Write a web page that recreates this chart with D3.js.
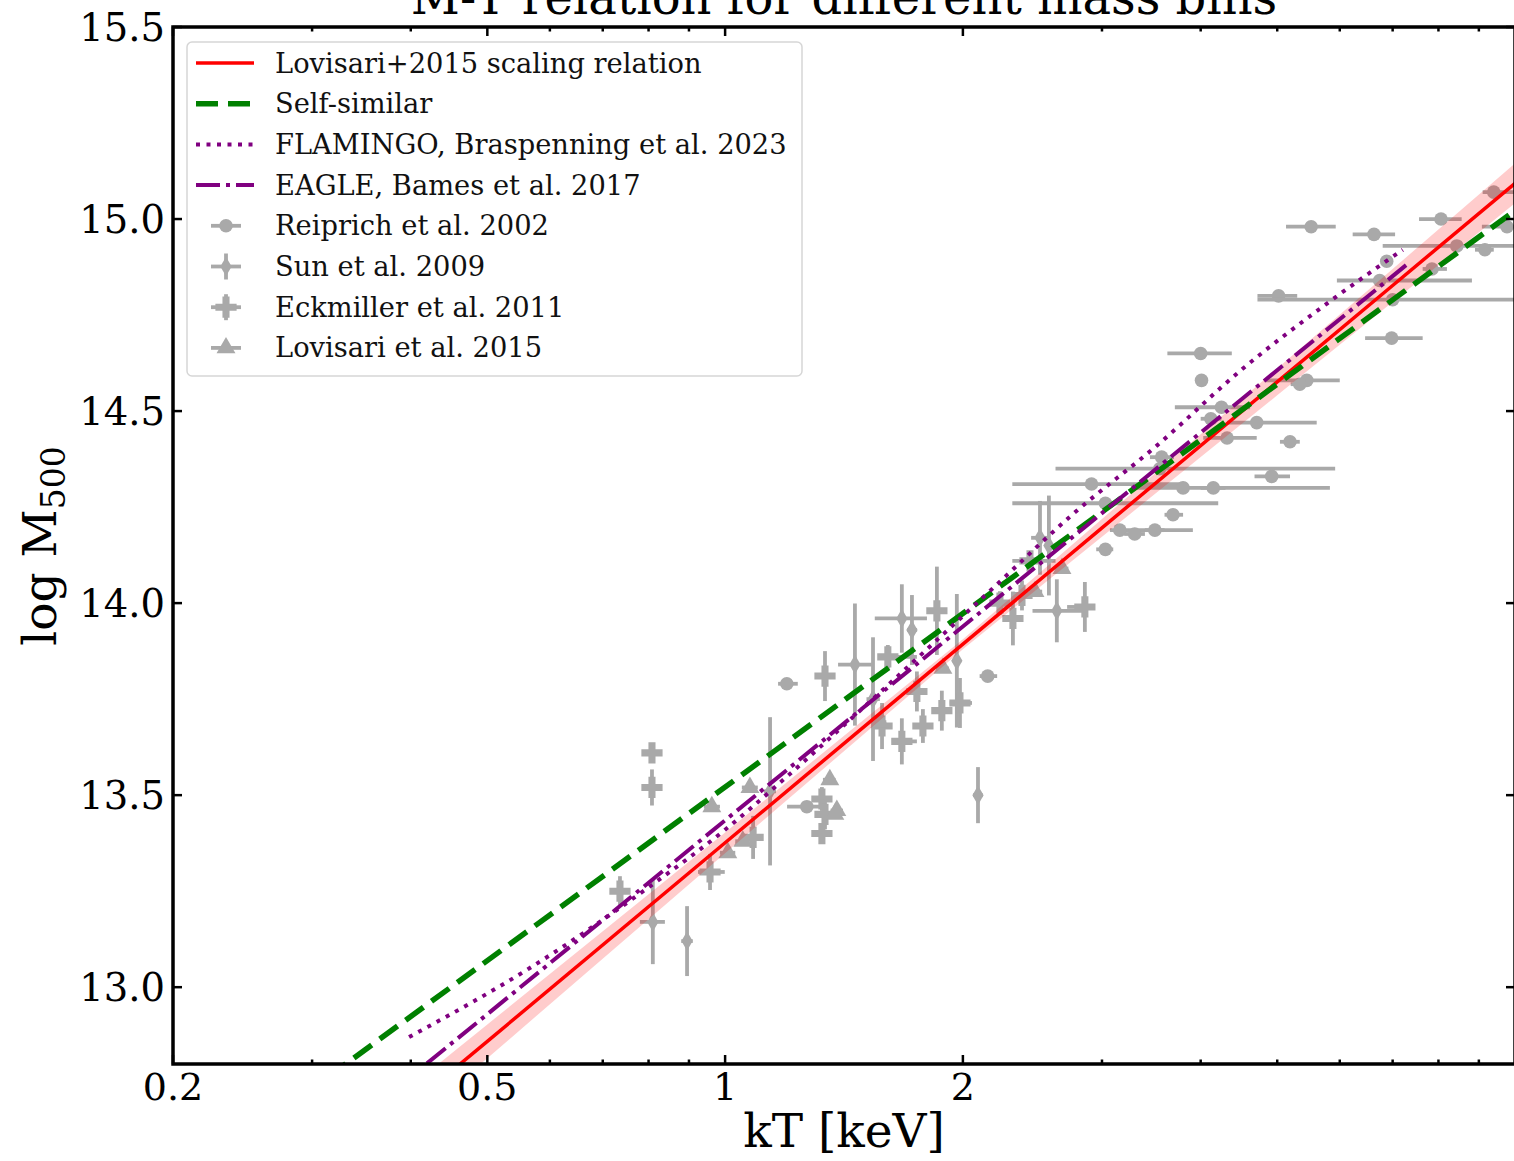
<!DOCTYPE html>
<html>
<head>
<meta charset="utf-8">
<script src="https://cdn.jsdelivr.net/npm/d3@7"></script>
<style>
  body { margin: 0; background: #fff; }
  svg { display: block; font-family: "DejaVu Serif", serif; }
</style>
</head>
<body>
<div id="chart"></div>
<script>
// scaling relations (kT in keV, log M500)
const relKT = [0.4, 0.5, 1, 2, 3, 5, 7, 10];
const lovisariFit = [12.693, 12.859, 13.376, 13.893, 14.196, 14.576, 14.827, 15.093];
const lovisariLo = [12.644, 12.815, 13.349, 13.880, 14.173, 14.541, 14.784, 15.041];
const lovisariHi = [12.742, 12.903, 13.403, 13.906, 14.219, 14.611, 14.870, 15.145];

const selfSimKT = [0.2, 10];
const selfSimLogM = [12.472, 15.022];

const flamingoKT = [0.398, 0.566, 0.80, 1.0, 1.2, 1.5, 2.16, 2.75, 3.52, 4.52, 5.78, 7.21];
const flamingoLogM = [12.87, 13.05, 13.26, 13.41, 13.55, 13.73, 14.03, 14.23, 14.41, 14.61, 14.78, 14.92];

const eagleKT = [0.35, 7.28];
const eagleLogM = [12.67, 14.88];

// observed samples: [kT, logM, kT_lo, kT_hi, dlogM]
const reiprich = [
  [5.52, 14.98, 5.13, 5.93], [6.63, 14.96, 6.23, 7.05], [8.06, 15.00, 7.56, 8.56],
  [9.77, 14.98, 9.08, 10.2], [8.44, 14.93, 6.80, 10.2], [9.16, 14.92, 8.9, 9.4],
  [9.4, 15.07, 9.1, 10.2], [6.88, 14.89, 6.8, 6.95], [7.85, 14.87, 7.64, 8.20],
  [6.74, 14.84, 5.95, 8.82], [5.02, 14.80, 4.72, 5.30], [7.00, 14.79, 4.72, 10.5],
  [6.98, 14.69, 6.46, 7.64], [4.00, 14.65, 3.63, 4.38], [4.01, 14.58, 3.95, 4.08],
  [5.45, 14.58, 4.82, 6.00], [5.34, 14.57, 5.2, 5.5], [4.12, 14.48, 4.0, 4.25],
  [4.25, 14.51, 3.71, 4.62], [4.71, 14.47, 4.32, 5.61], [4.32, 14.43, 4.03, 4.71],
  [5.19, 14.42, 5.04, 5.34], [3.57, 14.38, 3.45, 3.7], [3.55, 14.35, 2.62, 5.92],
  [4.92, 14.33, 4.68, 5.19], [2.91, 14.31, 2.31, 3.84], [3.80, 14.30, 3.28, 5.83],
  [4.15, 14.30, 4.0, 4.3], [3.03, 14.26, 2.31, 4.21], [3.69, 14.23, 3.6, 3.8],
  [3.16, 14.19, 3.07, 3.91], [3.30, 14.18, 3.2, 3.4], [3.50, 14.19, 3.4, 3.6],
  [3.03, 14.14, 2.95, 3.1], [1.197, 13.79, 1.167, 1.236], [2.15, 13.81, 2.10, 2.21],
  [1.269, 13.47, 1.198, 1.346]
];

const sun = [
  [1.14, 13.51, 1.12, 1.16, 0.193], [1.46, 13.84, 1.39, 1.534, 0.159],
  [1.539, 13.75, 1.51, 1.57, 0.161], [1.674, 13.96, 1.547, 1.801, 0.089],
  [1.724, 13.93, 1.70, 1.75, 0.091], [1.965, 13.85, 1.94, 1.99, 0.174],
  [2.09, 13.50, 2.06, 2.12, 0.073], [2.504, 14.17, 2.44, 2.57, 0.096],
  [2.57, 14.15, 2.54, 2.60, 0.13], [2.63, 13.98, 2.45, 2.84, 0.082],
  [0.81, 13.17, 0.78, 0.839, 0.11], [0.895, 13.12, 0.88, 0.91, 0.091]
];

const eckmiller = [
  [0.808, 13.61, 0.792, 0.827, 0.026], [0.808, 13.52, 0.792, 0.827, 0.047],
  [1.338, 13.81, 1.31, 1.37, 0.065], [1.854, 13.98, 1.82, 1.89, 0.115],
  [1.607, 13.86, 1.57, 1.749, 0.031], [1.749, 13.77, 1.72, 1.78, 0.052],
  [1.58, 13.68, 1.55, 1.61, 0.06], [1.674, 13.64, 1.626, 1.749, 0.06],
  [1.78, 13.68, 1.75, 1.81, 0.044], [1.881, 13.72, 1.85, 1.91, 0.052],
  [1.983, 13.74, 1.925, 2.054, 0.065], [2.314, 13.96, 2.28, 2.35, 0.07],
  [2.432, 14.11, 2.31, 2.62, 0.026], [2.854, 13.99, 2.71, 2.913, 0.065],
  [2.376, 14.02, 2.34, 2.41, 0.039], [2.228, 14.0, 2.20, 2.26, 0.031],
  [1.326, 13.49, 1.30, 1.35, 0.031], [1.338, 13.45, 1.31, 1.37, 0.039],
  [1.326, 13.40, 1.30, 1.35, 0.026], [0.957, 13.30, 0.924, 0.999, 0.047],
  [1.085, 13.39, 1.06, 1.11, 0.056], [0.736, 13.25, 0.72, 0.75, 0.039]
];

const lovisariPts = [
  [0.962, 13.47, 0.94, 0.985], [1.075, 13.52, 1.05, 1.10], [1.008, 13.35, 0.985, 1.03],
  [1.053, 13.38, 1.03, 1.075], [1.377, 13.45, 1.35, 1.40], [1.357, 13.54, 1.33, 1.38],
  [1.57, 13.69, 1.54, 1.60], [1.887, 13.83, 1.85, 1.92], [2.67, 14.09, 2.62, 2.72],
  [2.468, 14.03, 2.42, 2.52], [1.385, 13.46, 1.36, 1.41]
];

const xMajor = [0.2, 0.5, 1, 2];
const xMinor = [0.3, 0.4, 0.6, 0.7, 0.8, 0.9, 3, 4, 5, 6, 7, 8, 9];
const yMajor = [13.0, 13.5, 14.0, 14.5, 15.0, 15.5];

const legendLabels = [
  "Lovisari+2015 scaling relation", "Self-similar", "FLAMINGO, Braspenning et al. 2023",
  "EAGLE, Bames et al. 2017", "Reiprich et al. 2002", "Sun et al. 2009",
  "Eckmiller et al. 2011", "Lovisari et al. 2015"
];

const W = 1514, H = 1161;
const gray = "#a9a9a9";

const x = d3.scaleLog().domain([0.2, 10]).range([173, 1515]);
const y = d3.scaleLinear().domain([12.8, 15.5]).range([1064, 27]);

const svg = d3.select("#chart").append("svg")
  .attr("width", W).attr("height", H);

svg.append("defs").append("clipPath").attr("id", "plotclip")
  .append("rect").attr("x", 173).attr("y", 27).attr("width", 1515 - 173).attr("height", 1064 - 27);

const plot = svg.append("g").attr("clip-path", "url(#plotclip)");

// error bars + markers
function drawSample(data, symbol, hasYerr) {
  const g = plot.append("g");
  data.forEach(d => {
    g.append("line")
      .attr("x1", x(d[2])).attr("x2", x(d[3]))
      .attr("y1", y(d[1])).attr("y2", y(d[1]))
      .attr("stroke", gray).attr("stroke-width", 3.8);
    if (hasYerr) {
      g.append("line")
        .attr("x1", x(d[0])).attr("x2", x(d[0]))
        .attr("y1", y(d[1] - d[4])).attr("y2", y(d[1] + d[4]))
        .attr("stroke", gray).attr("stroke-width", 3.8);
    }
    g.append("path")
      .attr("d", symbol)
      .attr("transform", `translate(${x(d[0])},${y(d[1])})`)
      .attr("fill", gray);
  });
}

const symCircle = d3.symbol().type(d3.symbolCircle).size(145)();
const symDiamond = d3.symbol().type(d3.symbolDiamond).size(110)();
const symCross = d3.symbol().type(d3.symbolCross).size(250)();
const symTri = d3.symbol().type(d3.symbolTriangle).size(155)();

drawSample(reiprich, symCircle, false);
drawSample(sun, symDiamond, true);
drawSample(eckmiller, symCross, true);
drawSample(lovisariPts, symTri, false);

// Lovisari band
const area = d3.area()
  .x((d, i) => x(relKT[i]))
  .y0((d, i) => y(lovisariLo[i]))
  .y1((d, i) => y(lovisariHi[i]));
plot.append("path").datum(relKT).attr("d", area)
  .attr("fill", "#ff0000").attr("fill-opacity", 0.2);

const line = d3.line().x(d => x(d[0])).y(d => y(d[1]));
const zip = (a, b) => a.map((v, i) => [v, b[i]]);

plot.append("path").datum(zip(relKT, lovisariFit)).attr("d", line)
  .attr("fill", "none").attr("stroke", "#ff0000").attr("stroke-width", 3.5);

plot.append("path").datum(zip(selfSimKT, selfSimLogM)).attr("d", line)
  .attr("fill", "none").attr("stroke", "#008000").attr("stroke-width", 5.5)
  .attr("stroke-dasharray", "22,10");

plot.append("path").datum(zip(flamingoKT, flamingoLogM))
  .attr("d", line.curve(d3.curveMonotoneX))
  .attr("fill", "none").attr("stroke", "#800080").attr("stroke-width", 4)
  .attr("stroke-dasharray", "4,6.5");
line.curve(d3.curveLinear);

plot.append("path").datum(zip(eagleKT, eagleLogM)).attr("d", line)
  .attr("fill", "none").attr("stroke", "#800080").attr("stroke-width", 4)
  .attr("stroke-dasharray", "24,6,4,6");

// frame and ticks
const frame = svg.append("g").attr("stroke", "#000");
const x0 = 173, x1 = 1515, y0 = 27, y1 = 1064;

xMajor.concat(xMinor).forEach(v => {
  const len = xMajor.includes(v) ? 9 : 4.5;
  frame.append("line").attr("x1", x(v)).attr("x2", x(v))
    .attr("y1", y1).attr("y2", y1 - len).attr("stroke-width", 2.5);
  frame.append("line").attr("x1", x(v)).attr("x2", x(v))
    .attr("y1", y0).attr("y2", y0 + len).attr("stroke-width", 2.5);
});
yMajor.forEach(v => {
  frame.append("line").attr("x1", x0).attr("x2", x0 + 9)
    .attr("y1", y(v)).attr("y2", y(v)).attr("stroke-width", 2.5);
  frame.append("line").attr("x1", x1).attr("x2", x1 - 9)
    .attr("y1", y(v)).attr("y2", y(v)).attr("stroke-width", 2.5);
});
frame.append("rect").attr("x", x0).attr("y", y0)
  .attr("width", x1 - x0).attr("height", y1 - y0)
  .attr("fill", "none").attr("stroke-width", 3.5);

// tick labels
svg.append("g").selectAll("text").data(xMajor).join("text")
  .attr("x", d => x(d)).attr("y", 1100)
  .attr("text-anchor", "middle").attr("font-size", 38)
  .text(d => d);
svg.append("g").selectAll("text").data(yMajor).join("text")
  .attr("x", 165).attr("y", d => y(d)).attr("dy", "0.36em")
  .attr("text-anchor", "end").attr("font-size", 38.5)
  .text(d => d.toFixed(1));

// axis titles
svg.append("text").attr("x", 844).attr("y", 1147)
  .attr("text-anchor", "middle").attr("font-size", 47).text("kT [keV]");
const yl = svg.append("text")
  .attr("transform", "translate(56,546) rotate(-90)")
  .attr("text-anchor", "middle").attr("font-size", 47);
yl.append("tspan").text("log M");
yl.append("tspan").attr("font-size", 33).attr("dy", 9).text("500");

svg.append("text").attr("x", 844).attr("y", 14)
  .attr("text-anchor", "middle").attr("font-size", 48)
  .text("M-T relation for different mass bins");

// legend
const leg = svg.append("g");
leg.append("rect").attr("x", 187).attr("y", 42).attr("width", 615).attr("height", 334)
  .attr("rx", 5).attr("fill", "#fff").attr("fill-opacity", 0.8)
  .attr("stroke", "#d6d6d6").attr("stroke-width", 1.5);

const rowY = i => 63 + i * 40.7;
const hx0 = 196, hx1 = 254, hc = 226;

const handles = [
  {stroke: "#ff0000", w: 3.5, dash: null},
  {stroke: "#008000", w: 5.5, dash: "22,10"},
  {stroke: "#800080", w: 4, dash: "4,6.5"},
  {stroke: "#800080", w: 4, dash: "24,6,4,6"}
];
handles.forEach((h, i) => {
  leg.append("line").attr("x1", hx0).attr("x2", hx1)
    .attr("y1", rowY(i)).attr("y2", rowY(i))
    .attr("stroke", h.stroke).attr("stroke-width", h.w)
    .attr("stroke-dasharray", h.dash);
});
const legSyms = [
  {sym: symCircle, yerr: false}, {sym: symDiamond, yerr: true},
  {sym: symCross, yerr: true}, {sym: symTri, yerr: false}
];
legSyms.forEach((s, j) => {
  const cy = rowY(4 + j);
  leg.append("line").attr("x1", hc - 15).attr("x2", hc + 15)
    .attr("y1", cy).attr("y2", cy).attr("stroke", gray).attr("stroke-width", 3.8);
  if (s.yerr) {
    leg.append("line").attr("x1", hc).attr("x2", hc)
      .attr("y1", cy - 13).attr("y2", cy + 13).attr("stroke", gray).attr("stroke-width", 3.8);
  }
  leg.append("path").attr("d", s.sym).attr("transform", `translate(${hc},${cy})`)
    .attr("fill", gray);
});
leg.selectAll("text.lab").data(legendLabels).join("text")
  .attr("class", "lab")
  .attr("x", 275).attr("y", (d, i) => rowY(i)).attr("dy", "0.35em")
  .attr("font-size", 27.3).attr("fill", "#111")
  .text(d => d);
</script>
</body>
</html>
